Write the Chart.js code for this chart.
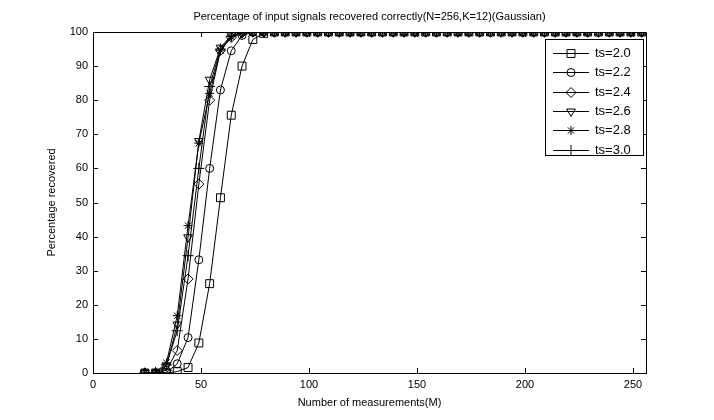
<!DOCTYPE html>
<html>
<head>
<meta charset="utf-8">
<script src="https://cdn.jsdelivr.net/npm/chart.js@4/dist/chart.umd.min.js"></script>
<style>
html,body{margin:0;padding:0;background:#fff;}
#wrap{width:714px;height:420px;}
</style>
</head>
<body>
<div id="wrap"><canvas id="c" width="714" height="420"></canvas></div>
<script>
// ---- data ----
const measurements = [24,29,34,39,44,49,54,59,64,69,74,79,84,89,94,99,104,109,114,119,124,129,134,139,144,149,154,159,164,169,174,179,184,189,194,199,204,209,214,219,224,229,234,239,244,249,254];
const seriesLabels = ['ts=2.0','ts=2.2','ts=2.4','ts=2.6','ts=2.8','ts=3.0'];
const ts20head = [0,0,0,0.4,1.6,8.8,26.2,51.4,75.6,90,97.8,99.6];
const ts22head = [0,0,0.2,2.7,10.4,33.2,60,83,94.5,99,99.9];
const ts24head = [0,0,0.8,6.6,27.6,55.4,80,94.6,98.4,99.7];
const ts26head = [0,0,2,14.2,39.8,68,86,95.4,99,99.8];
const ts28head = [0,0.2,3,16.8,43.2,67.4,82,94.5,98.6,99.8];
const ts30head = [0,0.2,2.4,12.4,34.4,60,84,95,98.8,99.7];
const xTicks = [0,50,100,150,200,250];
const yTicks = [0,10,20,30,40,50,60,70,80,90,100];
const titleText = 'Percentage of input signals recovered correctly(N=256,K=12)(Gaussian)';
const xTitle = 'Number of measurements(M)';
const yTitle = 'Percentage recovered';

function fill(head){ const a = head.slice(); while(a.length < measurements.length) a.push(100); return a; }
const seriesValues = [ts20head, ts22head, ts24head, ts26head, ts28head, ts30head].map(fill);

const markers = [
  {pointStyle:'rect', radius:5.6, rotation:0},
  {pointStyle:'circle', radius:4, rotation:0},
  {pointStyle:'rectRot', radius:5, rotation:0},
  {pointStyle:'triangle', radius:5, rotation:180},
  {pointStyle:'star', radius:4.5, rotation:0},
  {pointStyle:'cross', radius:5.5, rotation:0}
];

const FONT = '"Liberation Sans", Arial, Helvetica, sans-serif';

const datasets = seriesLabels.map((lab,i)=>({
  label: lab,
  data: measurements.map((m,j)=>({x:m, y:seriesValues[i][j]})),
  borderColor:'#000', borderWidth:1,
  pointStyle: markers[i].pointStyle,
  pointRadius: markers[i].radius,
  pointRotation: markers[i].rotation,
  pointBorderColor:'#000', pointBackgroundColor:'rgba(0,0,0,0)',
  pointBorderWidth:1, pointHoverRadius: markers[i].radius,
  fill:false, tension:0
}));

const framePlugin = {
  id:'frame',
  afterDraw(chart){
    const ctx = chart.ctx, a = chart.chartArea;
    const xs = chart.scales.x, ys = chart.scales.y;
    ctx.save();
    ctx.strokeStyle = '#000'; ctx.lineWidth = 1;
    ctx.beginPath();
    ctx.rect(Math.round(a.left)+0.5, Math.round(a.top)+0.5, Math.round(a.right-a.left), Math.round(a.bottom-a.top));
    ctx.stroke();
    const L = 5;
    ctx.beginPath();
    xTicks.forEach(v=>{
      const px = Math.round(xs.getPixelForValue(v))+0.5;
      ctx.moveTo(px, a.bottom); ctx.lineTo(px, a.bottom - L);
      ctx.moveTo(px, a.top); ctx.lineTo(px, a.top + L);
    });
    yTicks.forEach(v=>{
      const py = Math.round(ys.getPixelForValue(v))+0.5;
      ctx.moveTo(a.left, py); ctx.lineTo(a.left + L, py);
      ctx.moveTo(a.right, py); ctx.lineTo(a.right - L, py);
    });
    ctx.stroke();
    // texts
    ctx.fillStyle = '#000';
    ctx.font = '11px ' + FONT;
    ctx.textAlign = 'center'; ctx.textBaseline = 'middle';
    const cx = (a.left + a.right)/2;
    ctx.fillText(titleText, cx, 17);
    ctx.fillText(xTitle, cx, 403);
    ctx.save();
    ctx.translate(52, (a.top + a.bottom)/2);
    ctx.rotate(-Math.PI/2);
    ctx.fillText(yTitle, 0, 0);
    ctx.restore();
    // legend
    const bx = 545.5, by = 39.5, bw = 98, bh = 116;
    ctx.fillStyle = '#fff';
    ctx.fillRect(bx, by, bw, bh);
    ctx.strokeRect(bx, by, bw, bh);
    ctx.font = '13px ' + FONT;
    ctx.textAlign = 'left';
    chart.data.datasets.forEach((ds,i)=>{
      const y = Math.round(53 + i*19.3) + 0.5;
      ctx.beginPath();
      ctx.moveTo(553, y); ctx.lineTo(589, y);
      ctx.stroke();
      if (Chart.helpers && Chart.helpers.drawPoint) {
        ctx.fillStyle = '#fff';
        Chart.helpers.drawPoint(ctx, {pointStyle: ds.pointStyle, radius: ds.pointRadius, rotation: ds.pointRotation, borderWidth:1}, 571, y);
        ctx.beginPath();
        ctx.moveTo(553, y); ctx.lineTo(589, y);
        ctx.stroke();
      }
      ctx.fillStyle = '#000';
      ctx.fillText(ds.label, 595, y);
    });
    ctx.restore();
  }
};

new Chart(document.getElementById('c'), {
  type:'line',
  data:{datasets},
  options:{
    responsive:false, animation:false,
    layout:{padding:{left:0, right:68, top:32, bottom:0}},
    plugins:{legend:{display:false}, title:{display:false}, tooltip:{enabled:false}},
    elements:{line:{borderWidth:1}},
    scales:{
      x:{type:'linear', min:0, max:256,
        afterFit(s){ s.height = 47; },
        afterBuildTicks(s){ s.ticks = xTicks.map(v=>({value:v})); },
        grid:{display:false, drawTicks:false},
        border:{display:true, color:'#000', width:1},
        ticks:{color:'#000', padding:5, font:{family:FONT, size:11}, maxRotation:0, autoSkip:false}
      },
      y:{type:'linear', min:0, max:100,
        afterFit(s){ s.width = 93; },
        afterBuildTicks(s){ s.ticks = yTicks.map(v=>({value:v})); },
        grid:{display:false, drawTicks:false},
        border:{display:true, color:'#000', width:1},
        ticks:{color:'#000', padding:5, font:{family:FONT, size:11}, autoSkip:false}
      }
    }
  },
  plugins:[framePlugin]
});
</script>
</body>
</html>
